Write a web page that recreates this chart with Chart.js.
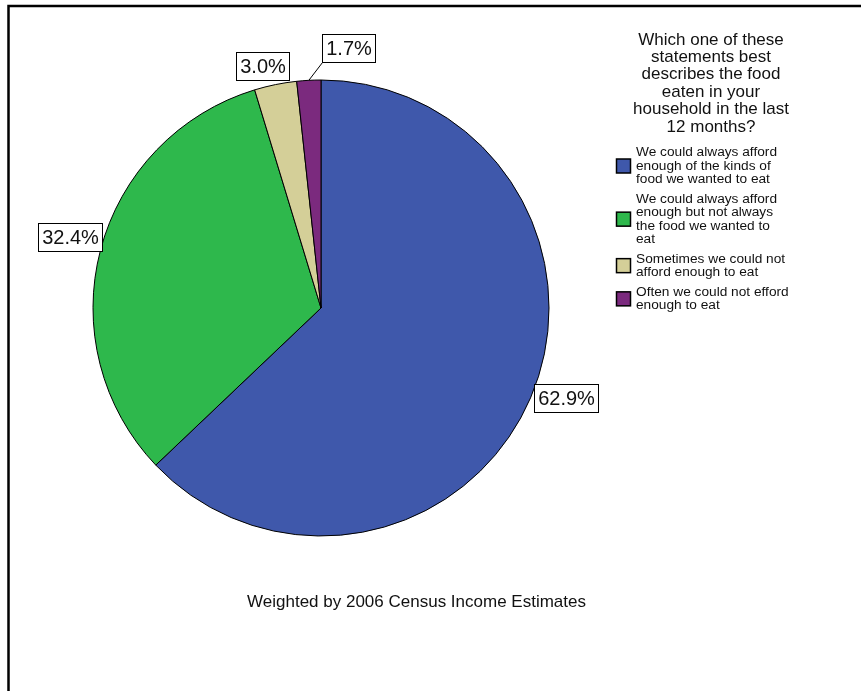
<!DOCTYPE html>
<html>
<head>
<meta charset="utf-8">
<script src="https://cdn.jsdelivr.net/npm/chart.js@4/dist/chart.umd.min.js"></script>
<style>
html,body{margin:0;padding:0;background:#fff;}
#wrap{width:861px;height:691px;position:relative;}
</style>
</head>
<body>
<div id="wrap"><canvas id="c" width="861" height="691"></canvas></div>
<script>
// ---- data ----
const categories = [
  "We could always afford enough of the kinds of food we wanted to eat",
  "We could always afford enough but not always the food we wanted to eat",
  "Sometimes we could not afford enough to eat",
  "Often we could not efford enough to eat"
];
const percentages = [62.9, 32.4, 3.0, 1.7];
const legendTitle = "Which one of these statements best describes the food eaten in your household in the last 12 months?";
const footnote = "Weighted by 2006 Census Income Estimates";
const sliceColors = ["#3F58AB", "#2EB84C", "#D4CF98", "#7B2A7E"];
// label box offsets (style): top-left of box relative to slice edge point
const labelOffsets = [[3,-14],[-63,-27],[-39,-33],[13,-46]];

function wrap(ctx, text, maxW){
  const words = text.split(" ");
  const lines = [];
  let cur = "";
  for (const w of words){
    const t = cur ? cur + " " + w : w;
    if (ctx.measureText(t).width > maxW && cur){ lines.push(cur); cur = w; }
    else cur = t;
  }
  if (cur) lines.push(cur);
  return lines;
}

const decor = {
  id: "decor",
  afterDraw(chart){
    const ctx = chart.ctx;
    ctx.save();
    // frame
    ctx.strokeStyle = "#000";
    ctx.lineWidth = 2.5;
    ctx.beginPath();
    ctx.moveTo(8.5, 691);
    ctx.lineTo(8.5, 6);
    ctx.lineTo(861, 6);
    ctx.stroke();

    // legend title
    ctx.fillStyle = "#111";
    ctx.font = "17px 'Liberation Sans', Arial, sans-serif";
    ctx.textAlign = "center";
    ctx.textBaseline = "middle";
    const tl = wrap(ctx, legendTitle, 162);
    tl.forEach((l, i) => ctx.fillText(l, 711, 40 + i * 17.4));

    // legend items
    ctx.font = "13.7px 'Liberation Sans', Arial, sans-serif";
    ctx.textAlign = "left";
    let y = 152.7;
    const lh = 13.3;
    categories.forEach((cat, i) => {
      const lines = wrap(ctx, cat, 155.5);
      const mid = y + (lines.length - 1) * lh / 2;
      ctx.fillStyle = sliceColors[i];
      ctx.fillRect(616.5, mid - 7, 14, 14);
      ctx.strokeStyle = "#000";
      ctx.lineWidth = 1.5;
      ctx.strokeRect(616.5, mid - 7, 14, 14);
      ctx.fillStyle = "#111";
      lines.forEach((l, j) => ctx.fillText(l, 636, y + j * lh));
      y += lines.length * lh + 6.6;
    });

    // footnote
    ctx.font = "17px 'Liberation Sans', Arial, sans-serif";
    ctx.textAlign = "center";
    ctx.fillStyle = "#111";
    ctx.fillText(footnote, 416.5, 602);

    // slice labels
    const meta = chart.getDatasetMeta(0);
    ctx.font = "20px 'Liberation Sans', Arial, sans-serif";
    meta.data.forEach((arc, i) => {
      const p = arc.getProps(["x","y","startAngle","endAngle","outerRadius"], true);
      const a = (p.startAngle + p.endAngle) / 2;
      const ex = p.x + Math.cos(a) * p.outerRadius;
      const ey = p.y + Math.sin(a) * p.outerRadius;
      const txt = percentages[i].toFixed(1) + "%";
      const tw = ctx.measureText(txt).width;
      const bw = Math.round(tw + 7), bh = 28;
      const bx = Math.round(ex + labelOffsets[i][0]) + 0.5;
      const by = Math.round(ey + labelOffsets[i][1]) + 0.5;
      // leader line to nearest box point
      const nx = Math.min(Math.max(ex, bx), bx + bw);
      const ny = Math.min(Math.max(ey, by), by + bh);
      ctx.strokeStyle = "#000";
      ctx.lineWidth = 1;
      if (Math.hypot(nx - ex, ny - ey) > 8){
        ctx.beginPath(); ctx.moveTo(ex, ey); ctx.lineTo(nx, ny); ctx.stroke();
      }
      ctx.fillStyle = "#fff";
      ctx.fillRect(bx, by, bw, bh);
      ctx.strokeRect(bx, by, bw, bh);
      ctx.fillStyle = "#111";
      ctx.textAlign = "center";
      ctx.textBaseline = "middle";
      ctx.fillText(txt, bx + bw / 2, by + bh / 2 + 1);
    });
    ctx.restore();
  }
};

new Chart(document.getElementById("c"), {
  type: "pie",
  data: {
    labels: categories,
    datasets: [{
      data: percentages,
      backgroundColor: sliceColors,
      borderColor: "#000",
      borderWidth: 1,
      hoverOffset: 0,
      radius: 228
    }]
  },
  options: {
    responsive: false,
    animation: false,
    layout: { padding: { left: 80, right: 299, top: 75, bottom: 150 } },
    plugins: { legend: { display: false }, tooltip: { enabled: false } },
    events: []
  },
  plugins: [decor]
});
</script>
</body>
</html>
